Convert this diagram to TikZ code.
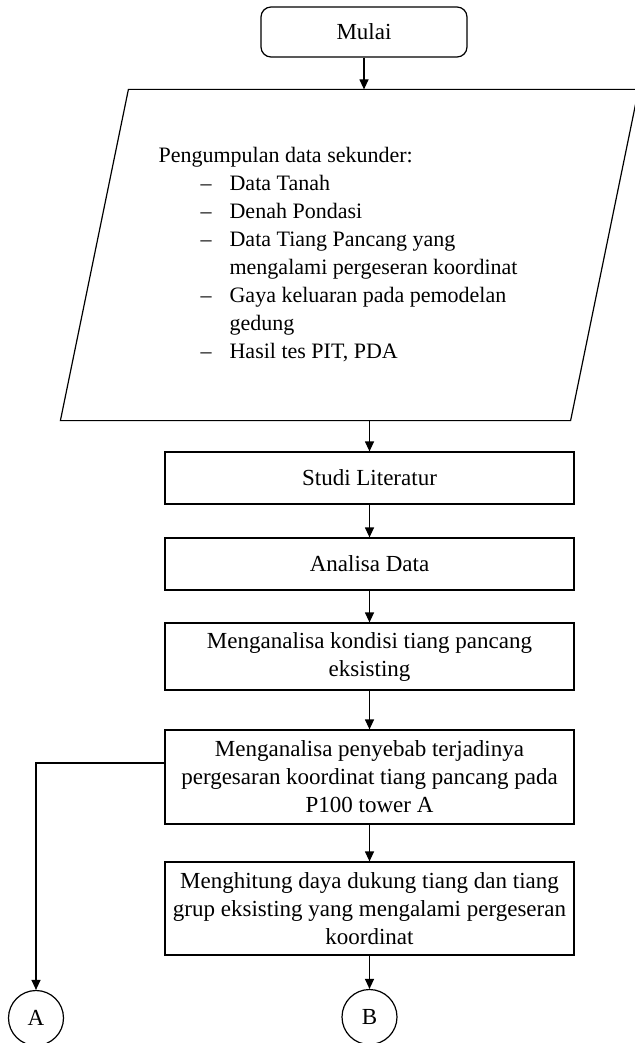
\documentclass[tikz,border=0pt]{standalone}
\usepackage{fontspec}
\setmainfont{Liberation Serif}
\usetikzlibrary{positioning}
\usetikzlibrary{arrows.meta}

\tikzset{
  mulaibox/.style={draw,rounded corners=10pt,minimum width=206pt,minimum height=50pt},
  prosesbox/.style={draw,minimum width=409pt,align=center,inner sep=0pt},
  konektor/.style={draw,circle,minimum size=55pt,inner sep=0pt},
}

\begin{document}
\begin{tikzpicture}[x=1pt,y=-1pt,line width=1.2pt,>={Triangle[width=9pt,length=10pt]},
    font=\fontsize{23}{28}\selectfont]
        \useasboundingbox (0,0) rectangle (634,1043);
        \node[mulaibox] (mulai) at (364,32) {Mulai};
        \node[minimum width=509pt,minimum height=330pt,inner sep=0pt] (data) at (349.5,255) {};
        \draw ([xshift=34pt]data.north west) -- ([xshift=34pt]data.north east)
          -- ([xshift=-34pt]data.south east) -- ([xshift=-34pt]data.south west) -- cycle;
        \node[anchor=west,inner sep=0pt,align=left,font=\fontsize{22}{28}\selectfont] (isi) at (158,255) {%
          \begin{tabular}{@{}p{42pt}@{}p{29pt}@{}l@{}}
          \multicolumn{3}{@{}l@{}}{Pengumpulan data sekunder:}\\
          & -- & Data Tanah\\
          & -- & Denah Pondasi\\
          & -- & Data Tiang Pancang yang\\
          &    & mengalami pergeseran koordinat\\
          & -- & Gaya keluaran pada pemodelan\\
          &    & gedung\\
          & -- & Hasil tes PIT, PDA
          \end{tabular}};
        \node[prosesbox,minimum height=52pt] (studi) at (369.5,478) {Studi Literatur};
        \node[prosesbox,minimum height=52pt] (analisa) at (369.5,564) {Analisa Data};
        \node[prosesbox,minimum height=67pt] (kondisi) at (369.5,656.5)
          {Menganalisa kondisi tiang pancang\\eksisting};
        \node[prosesbox,minimum height=94pt] (penyebab) at (369.5,777)
          {Menganalisa penyebab terjadinya\\pergesaran koordinat tiang pancang pada\\P100 tower A};
        \node[prosesbox,minimum height=93pt] (hitung) at (369.5,908.5)
          {Menghitung daya dukung tiang dan tiang\\grup eksisting yang mengalami pergeseran\\koordinat};
        \node[konektor] (A) at (36,1018) {A};
        \node[konektor] (B) at (369.5,1017) {B};

        \draw[->] (mulai.south) -- (mulai.south |- data.north);
        \draw[->] (studi.north |- data.south) -- (studi);
        \draw[->] (studi) -- (analisa);
        \draw[->] (analisa) -- (kondisi);
        \draw[->] (kondisi) -- (penyebab);
        \draw[->] (penyebab) -- (hitung);
        \draw[->] (hitung) -- (B);
        \draw[->] ([yshift=14pt]penyebab.west) -| (A);
\end{tikzpicture}
\end{document}
